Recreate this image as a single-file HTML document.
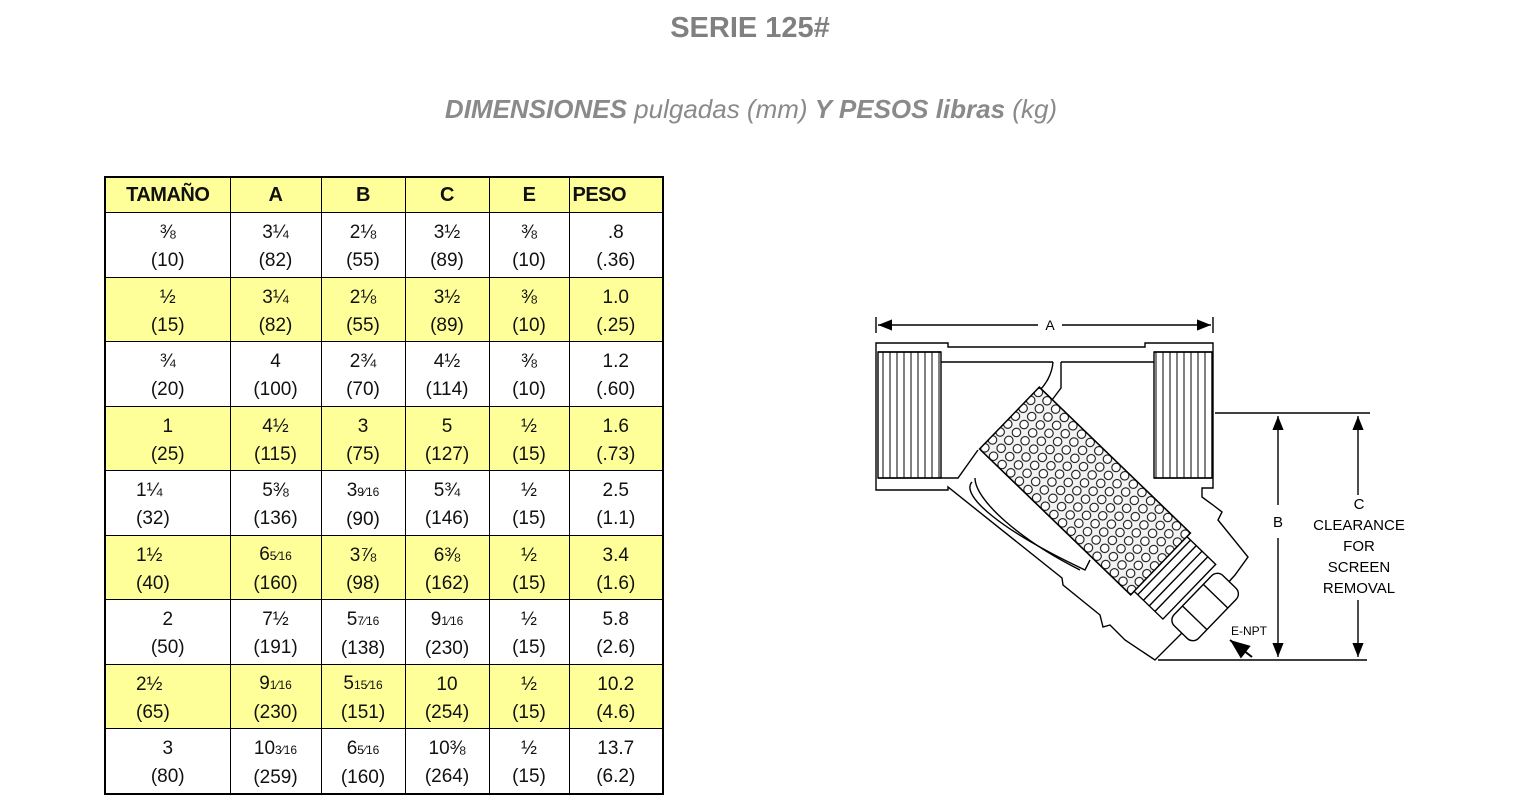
<!DOCTYPE html>
<html><head><meta charset="utf-8"><style>
body{margin:0;width:1536px;height:802px;background:#fff;position:relative;overflow:hidden;font-family:"Liberation Sans",sans-serif}
.t1{position:absolute;left:0;width:1500px;top:12px;text-align:center;font-size:29px;font-weight:bold;color:#808080}
.t2{position:absolute;left:0;width:1502px;top:94px;text-align:center;font-size:26px;font-style:italic;color:#8a8a8a}
table{position:absolute;left:104px;top:176px;border-collapse:collapse;border:2px solid #000}
td{border:1.5px solid #000;text-align:center;font-size:19px;color:#111;padding:0;line-height:28px;vertical-align:middle}
tr.h td{height:34px;font-weight:bold;font-size:20px;letter-spacing:-0.5px;background:#ffff99}
tr.y td{background:#ffff99}
tr.r td{height:58.5px;padding-top:5px}
.f{font-size:12px}
</style></head><body>
<div class="t1">SERIE 125#</div>
<div class="t2"><b>DIMENSIONES</b> pulgadas (mm) <b>Y PESOS libras</b> (kg)</div>
<table>
<colgroup><col style="width:125px"><col style="width:91px"><col style="width:84px"><col style="width:84px"><col style="width:80px"><col style="width:94px"></colgroup>
<tr class="h"><td>TAMAÑO</td><td>A</td><td>B</td><td>C</td><td>E</td><td style="text-align:left;padding-left:3px">PESO</td></tr>
<tr class="r"><td>⅜<br>(10)</td><td>3¼<br>(82)</td><td>2⅛<br>(55)</td><td>3½<br>(89)</td><td>⅜<br>(10)</td><td>.8<br>(.36)</td></tr>
<tr class="r y"><td>½<br>(15)</td><td>3¼<br>(82)</td><td>2⅛<br>(55)</td><td>3½<br>(89)</td><td>⅜<br>(10)</td><td>1.0<br>(.25)</td></tr>
<tr class="r"><td>¾<br>(20)</td><td>4<br>(100)</td><td>2¾<br>(70)</td><td>4½<br>(114)</td><td>⅜<br>(10)</td><td>1.2<br>(.60)</td></tr>
<tr class="r y"><td>1<br>(25)</td><td>4½<br>(115)</td><td>3<br>(75)</td><td>5<br>(127)</td><td>½<br>(15)</td><td>1.6<br>(.73)</td></tr>
<tr class="r"><td style="text-align:left;padding-left:30px">1¼<br>(32)</td><td>5⅜<br>(136)</td><td>3<span class="f">9⁄16</span><br>(90)</td><td>5¾<br>(146)</td><td>½<br>(15)</td><td>2.5<br>(1.1)</td></tr>
<tr class="r y"><td style="text-align:left;padding-left:30px">1½<br>(40)</td><td>6<span class="f">5⁄16</span><br>(160)</td><td>3⅞<br>(98)</td><td>6⅜<br>(162)</td><td>½<br>(15)</td><td>3.4<br>(1.6)</td></tr>
<tr class="r"><td>2<br>(50)</td><td>7½<br>(191)</td><td>5<span class="f">7⁄16</span><br>(138)</td><td>9<span class="f">1⁄16</span><br>(230)</td><td>½<br>(15)</td><td>5.8<br>(2.6)</td></tr>
<tr class="r y"><td style="text-align:left;padding-left:30px">2½<br>(65)</td><td>9<span class="f">1⁄16</span><br>(230)</td><td>5<span class="f">15⁄16</span><br>(151)</td><td>10<br>(254)</td><td>½<br>(15)</td><td>10.2<br>(4.6)</td></tr>
<tr class="r"><td>3<br>(80)</td><td>10<span class="f">3⁄16</span><br>(259)</td><td>6<span class="f">5⁄16</span><br>(160)</td><td>10⅜<br>(264)</td><td>½<br>(15)</td><td>13.7<br>(6.2)</td></tr>
</table>
<svg width="1536" height="802" style="position:absolute;left:0;top:0" fill="none" stroke="#000" stroke-width="1.4">
<defs>
<pattern id="h" width="12" height="11" patternUnits="userSpaceOnUse"><circle cx="6" cy="5.5" r="4.2" fill="#fff" stroke="#000" stroke-width="1"/></pattern>
<pattern id="th" width="7" height="10" patternUnits="userSpaceOnUse"><line x1="1" y1="0" x2="1" y2="10" stroke="#000" stroke-width="1"/></pattern>
<marker id="ar" markerWidth="10" markerHeight="8" refX="10" refY="4" orient="auto"><path d="M0,0 L10,4 L0,8z" fill="#000" stroke="none"/></marker>
</defs>
<line x1="876" y1="317" x2="876" y2="333"/><line x1="1213" y1="317" x2="1213" y2="333"/>
<line x1="878" y1="325" x2="1038" y2="325" marker-end="url(#ar)" transform="rotate(180 958 325)"/>
<line x1="1062" y1="325" x2="1211" y2="325" marker-end="url(#ar)"/>
<text x="1050" y="330" font-size="14" fill="#000" stroke="none" text-anchor="middle">A</text>
<path d="M876,343 L948,343 L948,347 L1145,347 L1145,343 L1213,343 L1213,488 L1202,488 L1202,497 L1213,505 L1222,512 L1218,520 L1248,557 L1235,575 L1190,625 L1155,660 L1125,640 L1110,625 L1103,627 L1100,615 L1063,585 L1062,578 L948,487 L948,490 L876,490 Z" fill="#fff"/>
<line x1="941" y1="362" x2="1053" y2="362"/><line x1="1061" y1="362" x2="1154" y2="362"/>
<path d="M1053,362 C1052,375 1045,385 1040,390 M1061,362 L1061,388 L1052,400"/>
<rect x="878" y="352" width="63" height="126" fill="url(#th)"/>
<rect x="1154" y="352" width="58" height="126" fill="url(#th)"/>
<path d="M878,352 L941,352 M878,478 L941,478 M1154,352 L1212,352 M1154,478 L1212,478"/>
<path d="M941,478 L958,478 L978,450 M975,478 C975,500 1020,540 1080,570"/>
<path d="M972,482 C960,495 1000,530 1085,570 L1090,560"/>
<g transform="translate(1085,491) rotate(44)">
<rect x="-105" y="-43" width="210" height="86" fill="#f2f2f2"/>
<rect x="-105" y="-43" width="210" height="86" fill="url(#h)"/>
<rect x="105" y="-38" width="40" height="76" fill="#fff"/>
<path d="M110,-38 L110,38 M118,-38 L118,38 M126,-38 L126,38 M134,-38 L134,38"/>
<rect x="150" y="-35" width="34" height="70" rx="8" fill="#fff"/>
<path d="M150,-15 L184,-15 M150,15 L184,15"/>
</g>
<line x1="1215" y1="413" x2="1370" y2="413"/>
<line x1="1158" y1="660" x2="1367" y2="660"/>
<line x1="1278" y1="505" x2="1278" y2="416" marker-end="url(#ar)"/>
<line x1="1278" y1="538" x2="1278" y2="657" marker-end="url(#ar)"/>
<line x1="1358" y1="495" x2="1358" y2="416" marker-end="url(#ar)"/>
<line x1="1358" y1="600" x2="1358" y2="657" marker-end="url(#ar)"/>
<line x1="1252" y1="657" x2="1230" y2="640" marker-end="url(#ar)" stroke-width="2"/>
<g fill="#000" stroke="none" font-size="15" text-anchor="middle">
<text x="1278" y="527">B</text>
<text x="1359" y="509">C</text>
<text x="1359" y="530">CLEARANCE</text>
<text x="1359" y="551">FOR</text>
<text x="1359" y="572">SCREEN</text>
<text x="1359" y="593">REMOVAL</text>
<text x="1249" y="635" font-size="12">E-NPT</text>
</g>
</svg>
</body></html>
